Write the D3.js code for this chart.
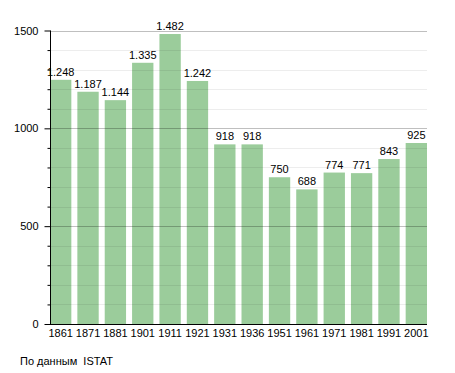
<!DOCTYPE html>
<html>
<head>
<meta charset="utf-8">
<script src="https://cdn.jsdelivr.net/npm/d3@7"></script>
<style>
  body { margin: 0; background: #fff; }
  svg text { font-family: "Liberation Sans", Arial, sans-serif; }
</style>
</head>
<body>
<svg id="chart" width="455" height="373"></svg>
<script>
// census years and population
var years = ["1861", "1871", "1881", "1901", "1911", "1921", "1931", "1936", "1951", "1961", "1971", "1981", "1991", "2001"];
var population = [1248, 1187, 1144, 1335, 1482, 1242, 918, 918, 750, 688, 774, 771, 843, 925];
var majorTicks = [0, 500, 1000, 1500];
var sourceNote = "По данным  ISTAT";

var svg = d3.select("#chart");
var plotL = 50, plotR = 427, plotT = 30.5, plotB = 324;

var x = d3.scaleBand().domain(years).range([plotL, plotR]).paddingInner(0.22).paddingOuter(0);
var y = d3.scaleLinear().domain([0, 1500]).range([plotB, plotT]);

var fmt = function(v){
    var s = String(v);
    if(s.length > 3) s = s.slice(0, s.length - 3) + "." + s.slice(-3);
    return s;
};

// bars
svg.append("g").selectAll("rect")
    .data(population)
    .enter().append("rect")
    .attr("x", function(d, i){ return x(years[i]); })
    .attr("y", function(d){ return y(d); })
    .attr("width", x.bandwidth())
    .attr("height", function(d){ return plotB - y(d); })
    .attr("fill", "#9bcc9b");

// grid, drawn over bars but faint
var minor = d3.range(100, 1501, 100).filter(function(v){ return v % 500 != 0; });
svg.append("g").selectAll("line")
    .data(minor)
    .enter().append("line")
    .attr("x1", plotL).attr("x2", plotR)
    .attr("y1", function(d){ return Math.round(y(d)) + 0.5; })
    .attr("y2", function(d){ return Math.round(y(d)) + 0.5; })
    .attr("stroke", "#000").attr("stroke-opacity", 0.07);
svg.append("g").selectAll("line")
    .data(majorTicks.filter(function(v){ return v > 0; }))
    .enter().append("line")
    .attr("x1", plotL).attr("x2", plotR)
    .attr("y1", function(d){ return Math.round(y(d)) + 0.5; })
    .attr("y2", function(d){ return Math.round(y(d)) + 0.5; })
    .attr("stroke", "#000").attr("stroke-opacity", 0.25);

// value labels
svg.append("g").selectAll("text")
    .data(population)
    .enter().append("text")
    .attr("x", function(d, i){ return x(years[i]) + x.bandwidth() / 2; })
    .attr("y", function(d){ return y(d) - 4; })
    .attr("text-anchor", "middle")
    .attr("font-size", 11)
    .attr("fill", "#000")
    .text(function(d){ return fmt(d); });

// y axis with minor ticks
var yAxis = d3.axisLeft(y).tickValues(majorTicks).tickSize(6).tickPadding(6).tickFormat(d3.format("d"));
var gy = svg.append("g").attr("transform", "translate(" + (plotL + 0.5) + ",0)").call(yAxis);
gy.select(".domain").remove();
gy.selectAll("text").attr("font-size", 11).attr("font-family", "Liberation Sans, Arial, sans-serif");
svg.append("g").attr("transform", "translate(" + (plotL + 0.5) + ",0)")
    .call(d3.axisLeft(y).tickValues(minor).tickSize(3).tickFormat(""))
    .select(".domain").remove();
svg.append("line").attr("x1", plotL + 0.5).attr("x2", plotL + 0.5)
    .attr("y1", plotT).attr("y2", plotB + 0.5).attr("stroke", "#000");

// x axis
var gx = svg.append("g").attr("transform", "translate(0," + (plotB + 0.5) + ")")
    .call(d3.axisBottom(x).tickSize(0).tickPadding(5));
gx.select(".domain").attr("d", "M" + plotL + ",0H" + plotR);
gx.selectAll("text").attr("font-size", 11).attr("font-family", "Liberation Sans, Arial, sans-serif");

svg.append("text")
    .attr("x", 20).attr("y", 365)
    .attr("font-size", 11)
    .attr("fill", "#000")
    .style("white-space", "pre")
    .text(sourceNote);
</script>
</body>
</html>
